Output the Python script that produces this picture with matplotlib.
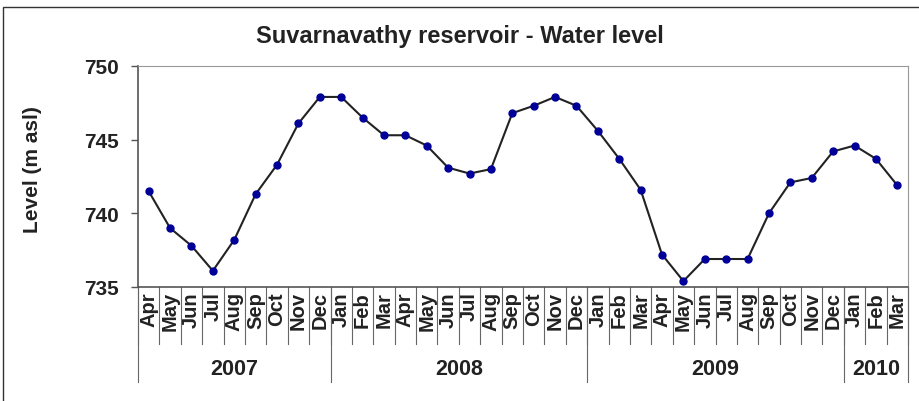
import matplotlib
matplotlib.use('Agg')
import matplotlib.pyplot as plt
import matplotlib.transforms as mtransforms
from matplotlib.patches import Rectangle

plt.rcParams['font.family'] = ['Liberation Sans', 'DejaVu Sans']

months = ['Apr', 'May', 'Jun', 'Jul', 'Aug', 'Sep', 'Oct', 'Nov', 'Dec',
          'Jan', 'Feb', 'Mar', 'Apr', 'May', 'Jun', 'Jul', 'Aug', 'Sep', 'Oct', 'Nov', 'Dec',
          'Jan', 'Feb', 'Mar', 'Apr', 'May', 'Jun', 'Jul', 'Aug', 'Sep', 'Oct', 'Nov', 'Dec',
          'Jan', 'Feb', 'Mar']
years = ['2007', '2008', '2009', '2010']
year_counts = [9, 12, 12, 3]
level = [741.5, 739.0, 737.8, 736.1, 738.2, 741.3, 743.3, 746.1, 747.9,
         747.9, 746.5, 745.3, 745.3, 744.6, 743.1, 742.7, 743.0, 746.8, 747.3, 747.9, 747.3,
         745.6, 743.7, 741.6, 737.2, 735.4, 736.9, 736.9, 736.9, 740.0, 742.1, 742.4, 744.2,
         744.6, 743.7, 741.9]

fig = plt.figure(figsize=(9.19, 4.02), dpi=100)
fig.patches.append(Rectangle((3 / 919, -0.5), 1.5, 0.5 + 1 - 8 / 402,
                             transform=fig.transFigure, fill=False,
                             edgecolor='#333333', linewidth=1.0))

ax = fig.add_axes([138 / 919, 1 - 288 / 402, 770 / 919, 221 / 402])
x = list(range(len(level)))
ax.plot(x, level, color='#222222', linewidth=1.5, marker='o', markersize=5,
        markerfacecolor='#000099', markeredgecolor='#000099', zorder=3)

ax.set_xlim(-0.5, len(level) - 0.5)
ax.set_ylim(735, 750)
ax.set_yticks([735, 740, 745, 750])
ax.tick_params(axis='y', labelsize=15, length=5, width=1, pad=9, color='#555555')
for lab in ax.get_yticklabels():
    lab.set_fontweight('bold')
    lab.set_color('#222222')

ax.set_xticks(x)
ax.set_xticklabels(months, rotation=90, fontsize=14.5, fontweight='bold', color='#222222')
ax.tick_params(axis='x', length=0, pad=3)

for side in ['top', 'right']:
    ax.spines[side].set_color('#999999')
ax.spines['left'].set_color('#555555')
ax.spines['bottom'].set_color('#555555')
ax.spines['left'].set_linewidth(1.2)
ax.spines['bottom'].set_linewidth(1.2)

fig.text(32 / 919, 1 - 170 / 402, 'Level (m asl)', rotation=90, ha='center',
         va='center', fontsize=15, fontweight='bold', color='#222222')
fig.text(460 / 919, 1 - 37 / 402, 'Suvarnavathy reservoir - Water level',
         ha='center', va='center', fontsize=17, fontweight='bold', color='#222222')

trans = mtransforms.blended_transform_factory(ax.transData, ax.transAxes)
# month separators
for i in range(len(months) + 1):
    ax.plot([i - 0.5, i - 0.5], [0, -57 / 221], transform=trans,
            color='#666666', linewidth=0.8, clip_on=False)
# year separators and labels
start = 0
for yr, n in zip(years, year_counts):
    ax.plot([start - 0.5, start - 0.5], [0, -95 / 221], transform=trans,
            color='#666666', linewidth=0.8, clip_on=False)
    ax.text(start + (n - 1) / 2, -82 / 221, yr, transform=trans, ha='center',
            va='center', fontsize=15.5, fontweight='bold', color='#222222')
    start += n
ax.plot([start - 0.5, start - 0.5], [0, -95 / 221], transform=trans,
        color='#666666', linewidth=0.8, clip_on=False)

fig.savefig('out.png', dpi=100)
